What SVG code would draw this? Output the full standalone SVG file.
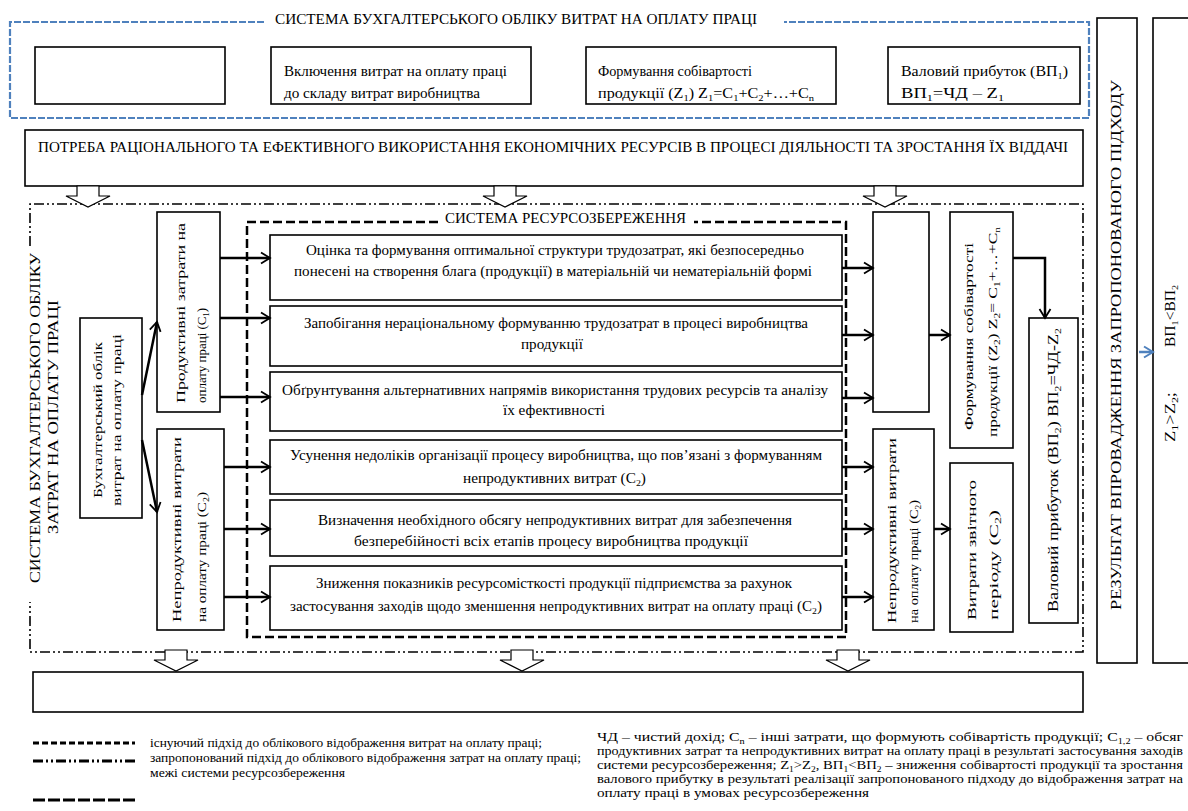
<svg xmlns="http://www.w3.org/2000/svg" width="1188" height="811" viewBox="0 0 1188 811" font-family="Liberation Serif, serif">
<style>
.bx{fill:#fff;stroke:#000;stroke-width:1.6}
.t{font-family:"Liberation Serif","Times New Roman",serif;font-size:14px;fill:#000}
.s{font-size:11.5px}
.n{font-size:11.5px}
.m{font-size:13px}
.l{font-size:15px}
.sub{font-size:65%;baseline-shift:-2.5px}
.blue{fill:none;stroke:#4F81BD;stroke-width:2.2;stroke-dasharray:7 2}
.dd{fill:none;stroke:#000;stroke-width:1.6;stroke-dasharray:10 3 2 3 2 3}
.ld{fill:none;stroke:#000;stroke-width:2.5;stroke-dasharray:9 4}
.ar{fill:none;stroke:#000;stroke-width:2.5;marker-end:url(#ah)}
.ho{fill:#fff;stroke:#000;stroke-width:1.2}
.lg1{stroke:#000;stroke-width:3;stroke-dasharray:6 3}
.lg2{stroke:#000;stroke-width:3;stroke-dasharray:10 3 2 3 2 3}
.lg3{stroke:#000;stroke-width:3;stroke-dasharray:12 3}
</style>
<defs>
<marker id="ah" markerUnits="userSpaceOnUse" markerWidth="14" markerHeight="14" refX="11" refY="7" orient="auto"><path d="M2,1.5 L11,7 L2,12.5" fill="none" stroke="#000" stroke-width="1.8"/></marker>
<marker id="ahb" markerUnits="userSpaceOnUse" markerWidth="14" markerHeight="14" refX="11" refY="7" orient="auto"><path d="M2,1.5 L11,7 L2,12.5" fill="none" stroke="#4F81BD" stroke-width="2"/></marker>
</defs>
<rect width="1188" height="811" fill="#fff"/>

<!-- frames -->
<g id="frames">
<path class="blue" d="M264,22 L10,22 L10,118 L1089,118 L1089,22 L784,22"/>
<text class="t" x="275" y="24" textLength="482" lengthAdjust="spacingAndGlyphs">СИСТЕМА БУХГАЛТЕРСЬКОГО ОБЛІКУ ВИТРАТ НА ОПЛАТУ ПРАЦІ</text>
<path class="dd" d="M30,246 L30,204 L1083,204 L1083,652 L30,652 L30,602"/>
<g transform="translate(35,418) rotate(-90)"><text class="t l" x="-165" y="5" textLength="330" lengthAdjust="spacingAndGlyphs">СИСТЕМА  БУХГАЛТЕРСЬКОГО ОБЛІКУ</text></g>
<g transform="translate(53,417) rotate(-90)"><text class="t l" x="-117" y="5" textLength="234" lengthAdjust="spacingAndGlyphs">ЗАТРАТ НА ОПЛАТУ ПРАЦІ</text></g>
<path class="ld" d="M438,222 L247,222 L247,637 L846,637 L846,222 L694,222"/>
<text class="t" x="445" y="223" textLength="241" lengthAdjust="spacingAndGlyphs">СИСТЕМА РЕСУРСОЗБЕРЕЖЕННЯ</text>
</g>

<!-- top row -->
<g id="top1"><rect class="bx" x="35" y="47" width="190" height="57"/></g>
<g id="top2"><rect class="bx" x="271" y="47" width="260" height="57"/>
<text class="t" x="284" y="76" textLength="223" lengthAdjust="spacingAndGlyphs">Включення витрат на оплату праці</text>
<text class="t" x="284" y="98" textLength="196" lengthAdjust="spacingAndGlyphs">до складу витрат виробництва</text></g>
<g id="top3"><rect class="bx" x="586" y="47" width="250" height="57"/>
<text class="t" x="598" y="76" textLength="154" lengthAdjust="spacingAndGlyphs">Формування собівартості</text>
<text class="t" x="598" y="98" textLength="216" lengthAdjust="spacingAndGlyphs">продукції (Z<tspan class="sub">1</tspan>) Z<tspan class="sub">1</tspan>=C<tspan class="sub">1</tspan>+C<tspan class="sub">2</tspan>+…+C<tspan class="sub">n</tspan></text></g>
<g id="top4"><rect class="bx" x="888" y="47" width="192" height="57"/>
<text class="t" x="901" y="76" textLength="167" lengthAdjust="spacingAndGlyphs">Валовий прибуток (ВП<tspan class="sub">1</tspan>)</text>
<text class="t" x="901" y="98" textLength="103" lengthAdjust="spacingAndGlyphs">ВП<tspan class="sub">1</tspan>=ЧД – Z<tspan class="sub">1</tspan></text></g>

<g id="need"><rect class="bx" x="25" y="130" width="1058" height="56"/>
<text class="t" x="38" y="152" textLength="1030" lengthAdjust="spacingAndGlyphs">ПОТРЕБА РАЦІОНАЛЬНОГО ТА ЕФЕКТИВНОГО ВИКОРИСТАННЯ ЕКОНОМІЧНИХ РЕСУРСІВ В ПРОЦЕСІ ДІЯЛЬНОСТІ ТА ЗРОСТАННЯ ЇХ ВІДДАЧІ</text></g>

<!-- left column -->
<g id="bukh"><rect class="bx" x="80" y="318" width="62" height="200"/>
<g transform="translate(97,420) rotate(-90)"><text class="t m" x="-78" y="4.5" textLength="156" lengthAdjust="spacingAndGlyphs">Бухгалтерський облік</text></g>
<g transform="translate(116,420) rotate(-90)"><text class="t m" x="-86" y="4.5" textLength="172" lengthAdjust="spacingAndGlyphs">витрат на оплату праці</text></g></g>
<g id="c1"><rect class="bx" x="157" y="212" width="63" height="200"/>
<g transform="translate(180,403) rotate(-90)"><text class="t m" x="0" y="4.5" textLength="180" lengthAdjust="spacingAndGlyphs">Продуктивні затрати на</text></g>
<g transform="translate(201,403) rotate(-90)"><text class="t m" x="0" y="4.5" textLength="95" lengthAdjust="spacingAndGlyphs">оплату праці (С<tspan class="sub">1</tspan>)</text></g></g>
<g id="c2"><rect class="bx" x="157" y="429" width="67" height="201"/>
<g transform="translate(176,622) rotate(-90)"><text class="t m" x="0" y="4.5" textLength="185" lengthAdjust="spacingAndGlyphs">Непродуктивні витрати</text></g>
<g transform="translate(201,622) rotate(-90)"><text class="t m" x="0" y="4.5" textLength="130" lengthAdjust="spacingAndGlyphs">на оплату праці (С<tspan class="sub">2</tspan>)</text></g></g>

<!-- middle boxes -->
<g id="m1"><rect class="bx" x="270" y="235" width="572" height="65"/>
<text class="t" x="306" y="255" textLength="498" lengthAdjust="spacingAndGlyphs">Оцінка та формування оптимальної структури трудозатрат, які безпосередньо</text>
<text class="t" x="294" y="276" textLength="518" lengthAdjust="spacingAndGlyphs">понесені на створення блага (продукції) в матеріальній чи нематеріальній формі</text></g>
<g id="m2"><rect class="bx" x="270" y="306" width="572" height="60"/>
<text class="t" x="304" y="328" textLength="504" lengthAdjust="spacingAndGlyphs">Запобігання нераціональному формуванню трудозатрат в процесі виробництва</text>
<text class="t" x="521" y="349" textLength="62" lengthAdjust="spacingAndGlyphs">продукції</text></g>
<g id="m3"><rect class="bx" x="270" y="372" width="572" height="59"/>
<text class="t" x="282" y="395" textLength="546" lengthAdjust="spacingAndGlyphs">Обґрунтування альтернативних напрямів використання трудових ресурсів та аналізу</text>
<text class="t" x="503" y="415" textLength="102" lengthAdjust="spacingAndGlyphs">їх ефективності</text></g>
<g id="m4"><rect class="bx" x="270" y="440" width="572" height="54"/>
<text class="t" x="290" y="460" textLength="532" lengthAdjust="spacingAndGlyphs">Усунення недоліків  організації процесу виробництва, що пов’язані з формуванням</text>
<text class="t" x="463" y="483" textLength="183" lengthAdjust="spacingAndGlyphs">непродуктивних витрат (С<tspan class="sub">2</tspan>)</text></g>
<g id="m5"><rect class="bx" x="270" y="500" width="572" height="56"/>
<text class="t" x="318" y="525" textLength="474" lengthAdjust="spacingAndGlyphs">Визначення необхідного обсягу непродуктивних витрат для забезпечення</text>
<text class="t" x="354" y="546" textLength="394" lengthAdjust="spacingAndGlyphs">безперебійності всіх етапів процесу виробництва продукції</text></g>
<g id="m6"><rect class="bx" x="270" y="566" width="572" height="64"/>
<text class="t" x="316" y="588" textLength="476" lengthAdjust="spacingAndGlyphs">Зниження показників ресурсомісткості продукції підприємства за рахунок</text>
<text class="t" x="290" y="611" textLength="532" lengthAdjust="spacingAndGlyphs">застосування заходів щодо зменшення непродуктивних витрат на оплату праці (С<tspan class="sub">2</tspan>)</text></g>

<!-- right column -->
<g id="rEmpty"><rect class="bx" x="873" y="212" width="56" height="200"/></g>
<g id="rC2"><rect class="bx" x="873" y="429" width="61" height="201"/>
<g transform="translate(891,623) rotate(-90)"><text class="t m" x="0" y="4.5" textLength="185" lengthAdjust="spacingAndGlyphs">Непродуктивні витрати</text></g>
<g transform="translate(913,623) rotate(-90)"><text class="t m" x="0" y="4.5" textLength="123" lengthAdjust="spacingAndGlyphs">на оплату праці (С<tspan class="sub">2</tspan>)</text></g></g>
<g id="rZ2"><rect class="bx" x="950" y="212" width="63" height="236"/>
<g transform="translate(968,430) rotate(-90)"><text class="t m" x="0" y="4.5" textLength="187" lengthAdjust="spacingAndGlyphs">Формування собівартості</text></g>
<g transform="translate(992,437) rotate(-90)"><text class="t m" x="0" y="4.5" textLength="210" lengthAdjust="spacingAndGlyphs">продукції (Z<tspan class="sub">2</tspan>)  Z<tspan class="sub">2</tspan>= C<tspan class="sub">1</tspan>+…+C<tspan class="sub">n</tspan></text></g></g>
<g id="rPeriod"><rect class="bx" x="950" y="463" width="63" height="169"/>
<g transform="translate(971,620) rotate(-90)"><text class="t m" x="0" y="4.5" textLength="140" lengthAdjust="spacingAndGlyphs">Витрати звітного</text></g>
<g transform="translate(993,620) rotate(-90)"><text class="t m" x="0" y="4.5" textLength="110" lengthAdjust="spacingAndGlyphs">періоду (С<tspan class="sub">2</tspan>)</text></g></g>
<g id="rVP2"><rect class="bx" x="1029" y="318" width="49" height="305"/>
<g transform="translate(1053,470) rotate(-90)"><text class="t" x="-142" y="5" textLength="284" lengthAdjust="spacingAndGlyphs">Валовий прибуток (ВП<tspan class="sub">2</tspan>) ВП<tspan class="sub">2</tspan>=ЧД-Z<tspan class="sub">2</tspan></text></g></g>

<g id="result"><rect class="bx" x="1097" y="18" width="40" height="645"/>
<g transform="translate(1116,345) rotate(-90)"><text class="t" x="-265" y="5" textLength="530" lengthAdjust="spacingAndGlyphs">РЕЗУЛЬТАТ ВПРОВАДЖЕННЯ ЗАПРОПОНОВАНОГО ПІДХОДУ</text></g></g>
<g id="compare"><rect class="bx" x="1153" y="18" width="45" height="645"/>
<g transform="translate(1170,316) rotate(-90)"><text class="t" x="-31" y="5" textLength="62" lengthAdjust="spacingAndGlyphs">ВП<tspan class="sub">1</tspan>&lt;ВП<tspan class="sub">2</tspan></text></g>
<g transform="translate(1170,417) rotate(-90)"><text class="t" x="-25" y="5" textLength="50" lengthAdjust="spacingAndGlyphs">Z<tspan class="sub">1</tspan>&gt;Z<tspan class="sub">2</tspan>;</text></g></g>

<g id="bottomBox"><rect class="bx" x="33" y="672" width="1050" height="40"/></g>

<!-- connectors -->
<g id="connectors">
<path class="ho" d="M77,186 H99 V196 H110 L88,207 L66,196 H77 Z"/>
<path class="ho" d="M494,186 H516 V196 H527 L505,207 L483,196 H494 Z"/>
<path class="ho" d="M874,186 H896 V196 H907 L885,207 L863,196 H874 Z"/>
<path class="ho" d="M165,650 H187 V660 H198 L176,671 L154,660 H165 Z"/>
<path class="ho" d="M511,650 H533 V660 H544 L522,671 L500,660 H511 Z"/>
<path class="ho" d="M837,650 H859 V660 H870 L848,671 L826,660 H837 Z"/>
<line class="ar" x1="142" y1="395" x2="157" y2="322"/>
<line class="ar" x1="142" y1="440" x2="157" y2="512"/>
<line class="ar" x1="220" y1="258" x2="270" y2="258"/>
<line class="ar" x1="220" y1="318" x2="270" y2="318"/>
<line class="ar" x1="220" y1="397" x2="270" y2="397"/>
<line class="ar" x1="224" y1="467" x2="270" y2="467"/>
<line class="ar" x1="224" y1="529" x2="270" y2="529"/>
<line class="ar" x1="224" y1="597" x2="270" y2="597"/>
<line class="ar" x1="842" y1="268" x2="873" y2="268"/>
<line class="ar" x1="842" y1="335" x2="873" y2="335"/>
<line class="ar" x1="842" y1="398" x2="873" y2="398"/>
<line class="ar" x1="842" y1="467" x2="873" y2="467"/>
<line class="ar" x1="842" y1="529" x2="873" y2="529"/>
<line class="ar" x1="842" y1="597" x2="873" y2="597"/>
<line class="ar" x1="929" y1="335" x2="950" y2="335"/>
<line class="ar" x1="934" y1="529" x2="950" y2="529"/>
<path class="ar" d="M1013,258 H1045 V318"/>
<line x1="1139" y1="352" x2="1153" y2="352" stroke="#4F81BD" stroke-width="2.5" marker-end="url(#ahb)"/>
</g>

<!-- legend -->
<g id="legend">
<line class="lg1" x1="33" y1="743" x2="135" y2="743"/>
<line class="lg2" x1="33" y1="761" x2="135" y2="761"/>
<line class="lg3" x1="33" y1="800" x2="135" y2="800"/>
<text class="t s" x="150" y="747" textLength="392" lengthAdjust="spacingAndGlyphs">існуючий підхід до облікового відображення витрат на оплату праці;</text>
<text class="t s" x="150" y="762" textLength="431" lengthAdjust="spacingAndGlyphs">запропонований підхід до облікового відображення затрат на оплату праці;</text>
<text class="t s" x="150" y="777" textLength="195" lengthAdjust="spacingAndGlyphs">межі системи ресурсозбереження</text>
<text class="t n" x="597" y="741" textLength="586" lengthAdjust="spacingAndGlyphs">ЧД – чистий дохід;  С<tspan class="sub">n</tspan> – інші затрати, що формують собівартість продукції;  С<tspan class="sub">1,2</tspan> – обсяг</text>
<text class="t n" x="597" y="755" textLength="586" lengthAdjust="spacingAndGlyphs">продуктивних затрат та непродуктивних витрат на оплату праці в результаті застосування заходів</text>
<text class="t n" x="597" y="769" textLength="586" lengthAdjust="spacingAndGlyphs">системи ресурсозбереження;  Z<tspan class="sub">1</tspan>&gt;Z<tspan class="sub">2</tspan>,  ВП<tspan class="sub">1</tspan>&lt;ВП<tspan class="sub">2</tspan> – зниження собівартості продукції та зростання</text>
<text class="t n" x="597" y="783" textLength="586" lengthAdjust="spacingAndGlyphs">валового прибутку в результаті реалізації запропонованого підходу до відображення затрат на</text>
<text class="t n" x="597" y="797" textLength="272" lengthAdjust="spacingAndGlyphs">оплату праці в умовах ресурсозбереження</text>
</g>
</svg>
